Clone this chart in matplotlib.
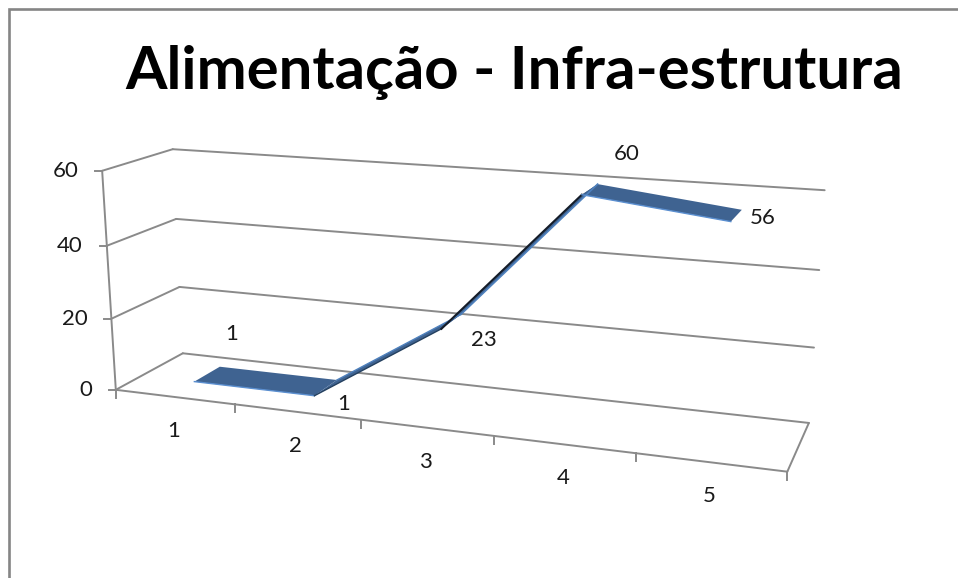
import numpy as np
import matplotlib
matplotlib.use("Agg")
import matplotlib.pyplot as plt
from matplotlib.patches import Polygon

plt.rcParams['font.family'] = ['Lato', 'DejaVu Sans']

title = "Alimentação - Infra-estrutura"
categories = ["1", "2", "3", "4", "5"]
values = [1, 1, 23, 60, 56]
y_ticks = [0, 20, 40, 60]

GRID = "#8a8a8a"
TEXT = "#1a1a1a"

# camera fit: (category edge, depth, value) -> picture pixel
cal_3d = np.array([[0, 0, 0], [0, 0, 60], [0, 1, 0], [0, 1, 60], [5, 1, 0], [5, 1, 60],
                   [5, 0, 0], [1, 0, 0], [2, 0, 0], [3, 0, 0], [4, 0, 0],
                   [0, 1, 20], [0, 1, 40], [5, 1, 20], [5, 1, 40], [0, 0, 20], [0, 0, 40]], float)
cal_px = np.array([[116, 389], [102, 171], [183, 353], [173, 150], [809, 423], [825, 190],
                   [787, 470], [235, 404], [361, 421], [494, 438], [636, 454],
                   [179, 287], [176, 219], [814, 347], [819, 270], [111, 318], [107, 245]], float)

rows = []
rhs = []
for (a, b, c), (px, py) in zip(cal_3d, cal_px):
    rows.append([a, b, c, 1, 0, 0, 0, 0, -px * a, -px * b, -px * c])
    rhs.append(px)
    rows.append([0, 0, 0, 0, a, b, c, 1, -py * a, -py * b, -py * c])
    rhs.append(py)
sol = np.linalg.lstsq(np.array(rows), np.array(rhs), rcond=None)[0]
P = np.append(sol, 1).reshape(3, 4)


def project(u, v, w):
    h = P @ np.array([u, v, w, 1.0])
    return h[0] / h[2], h[1] / h[2]


fig = plt.figure(figsize=(9.58, 5.78), dpi=100)
ax = fig.add_axes([0, 0, 1, 1])
ax.set_xlim(0, 958)
ax.set_ylim(578, 0)
ax.axis("off")

# chart frame
ax.plot([9.3, 9.3, 958], [578, 8.5, 8.5], color="#858585", lw=1.9, solid_joinstyle="miter")

ax.text(514.5, 72, title, fontsize=43, fontweight="bold", color="black", ha="center", va="center")


def seg(a, b, **kw):
    p, q = project(*a), project(*b)
    ax.plot([p[0], q[0]], [p[1], q[1]], color=GRID, lw=1.4, solid_capstyle="round", **kw)


# walls and value axis
for t in y_ticks:
    seg((5, 1, t), (0, 1, t))
    seg((0, 1, t), (0, 0, t))
    x0, y0 = project(0, 0, t)
    ax.plot([x0 - 7, x0], [y0, y0], color=GRID, lw=1.4)
    ax.text(x0 - 24, y0, str(t), fontsize=16, color=TEXT, ha="right", va="center")
seg((0, 0, 0), (0, 0, y_ticks[-1]))

# floor and category axis
seg((0, 0, 0), (5, 0, 0))
seg((5, 0, 0), (5, 1, 0))
for i in range(len(categories) + 1):
    x0, y0 = project(i, 0, 0)
    ax.plot([x0, x0], [y0, y0 + 8], color=GRID, lw=1.4)
for i, c in enumerate(categories):
    x0, y0 = project(i + 0.5, 0, 0)
    ax.text(x0 - 1, y0 + 34, c, fontsize=16, color=TEXT, ha="center", va="center")

# ribbon
v_front, v_back = 0.3, 0.7
for i in range(len(values) - 1):
    a, b = values[i], values[i + 1]
    f0 = project(i + 0.5, v_front, a)
    f1 = project(i + 1.5, v_front, b)
    b1 = project(i + 1.5, v_back, b)
    b0 = project(i + 0.5, v_back, a)
    ax.add_patch(Polygon([f0, f1, b1, b0], closed=True, facecolor="#3f6391", edgecolor="none", zorder=3))
    if b - a > 30:
        ax.plot([f0[0], f1[0]], [f0[1], f1[1]], color="#141c28", lw=1.5, zorder=4)
        ax.plot([b0[0], b1[0]], [b0[1], b1[1]], color="#4f81bd", lw=1.2, zorder=4)
    elif b > a:
        ax.plot([f0[0], f1[0]], [f0[1], f1[1]], color="#24405f", lw=1.0, zorder=4)
        ax.plot([b0[0], b1[0]], [b0[1], b1[1]], color="#4f81bd", lw=1.0, zorder=4)
    else:
        ax.plot([f0[0], f1[0]], [f0[1], f1[1]], color="#5b8fd0", lw=1.0, zorder=4)

# data labels, offsets as placed in the sheet
offsets = [(37, -48), (29, 8), (42, 11), (45, -41), (32, -4)]
for i, val in enumerate(values):
    x0, y0 = project(i + 0.5, v_front, val)
    ax.text(x0 + offsets[i][0], y0 + offsets[i][1], str(val), fontsize=16, color=TEXT,
            ha="center", va="center", zorder=5)

fig.savefig("out.png", dpi=100)
